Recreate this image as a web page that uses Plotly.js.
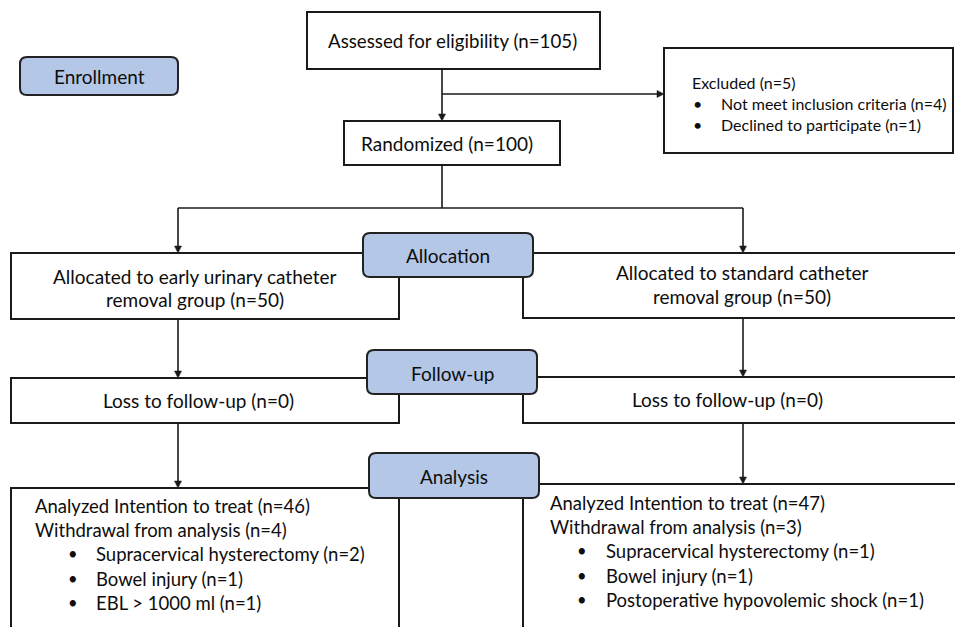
<!DOCTYPE html>
<html>
<head>
<meta charset="utf-8">
<script src="https://cdn.plot.ly/plotly-3.0.1.min.js"></script>
<style>html,body{margin:0;padding:0;background:#fff;}#chart{width:955px;height:627px;}</style>
</head>
<body>
<div id="chart"></div>
<script>
// ---- Content (texts and counts) ----
const stageLabels = ["Enrollment", "Allocation", "Follow-up", "Analysis"];
const assessedN = 105;
const excludedN = 5;
const excludedReasons = ["Not meet inclusion criteria", "Declined to participate"];
const excludedCounts = [4, 1];
const randomizedN = 100;
const groupNames = ["early urinary catheter", "standard catheter"];
const allocatedN = [50, 50];
const lostN = [0, 0];
const analyzedN = [46, 47];
const withdrawnN = [4, 3];
const withdrawReasonsLeft = ["Supracervical hysterectomy", "Bowel injury", "EBL > 1000 ml"];
const withdrawCountsLeft = [2, 1, 1];
const withdrawReasonsRight = ["Supracervical hysterectomy", "Bowel injury", "Postoperative hypovolemic shock"];
const withdrawCountsRight = [1, 1, 1];

// ---- Layout geometry (pixel-like data coordinates, y downward) ----
const FONT = "Lato, 'Open Sans', sans-serif";
const TXT = "#0d0d0d";
const shapes = [];
const annotations = [];

function rect(x0, y0, x1, y1) {
  shapes.push({type: "rect", xref: "x", yref: "y", x0, y0, x1, y1,
    line: {color: "#1a1a1a", width: 2}, fillcolor: "#ffffff", layer: "above"});
}
function pill(x0, y0, x1, y1) {
  const r = 7;
  const p = `M ${x0+r},${y0} L ${x1-r},${y0} Q ${x1},${y0} ${x1},${y0+r} L ${x1},${y1-r} Q ${x1},${y1} ${x1-r},${y1} L ${x0+r},${y1} Q ${x0},${y1} ${x0},${y1-r} L ${x0},${y0+r} Q ${x0},${y0} ${x0+r},${y0} Z`;
  shapes.push({type: "path", xref: "x", yref: "y", path: p,
    line: {color: "#222222", width: 2}, fillcolor: "#b4c7e7", layer: "above"});
}
function line(x0, y0, x1, y1) {
  shapes.push({type: "line", xref: "x", yref: "y", x0, y0, x1, y1,
    line: {color: "#1a1a1a", width: 1.6}, layer: "above"});
}
function arrowDown(x, y0, y1) {
  line(x, y0, x, y1 - 5);
  shapes.push({type: "path", xref: "x", yref: "y",
    path: `M ${x-3.5},${y1-7} L ${x+3.5},${y1-7} L ${x},${y1} Z`,
    fillcolor: "#1a1a1a", line: {color: "#1a1a1a", width: 0.5}, layer: "above"});
}
function arrowRight(x0, x1, y) {
  line(x0, y, x1 - 5, y);
  shapes.push({type: "path", xref: "x", yref: "y",
    path: `M ${x1-7},${y-3.5} L ${x1-7},${y+3.5} L ${x1},${y} Z`,
    fillcolor: "#1a1a1a", line: {color: "#1a1a1a", width: 0.5}, layer: "above"});
}
function text(t, x, y, size, anchor) {
  annotations.push({text: t, x, y, xref: "x", yref: "y", showarrow: false,
    xanchor: anchor || "center", yanchor: "middle",
    font: {family: FONT, size: size, color: TXT}});
}

// connectors
arrowDown(442, 69, 121);
arrowRight(442, 664, 94);
line(442, 165, 442, 208);
line(178, 208, 743, 208);
arrowDown(178, 208, 253);
arrowDown(743, 208, 253);
arrowDown(178, 319, 378);
arrowDown(743, 318, 377);
arrowDown(178, 423, 488);
arrowDown(743, 423, 484);

// boxes
rect(307, 12, 600, 69);
rect(664, 48, 953, 153);
rect(344, 121, 560, 165);
rect(11, 253, 399, 319);
rect(523, 253, 975, 318);
rect(11, 378, 399, 423);
rect(523, 377, 975, 423);
rect(11, 488, 399, 660);
rect(523, 484, 975, 660);

// stage pills
pill(20, 57, 178, 95);
pill(363, 233, 533, 277);
pill(367, 350, 537, 394);
pill(369, 453, 539, 498);

const MAIN = 19, SMALL = 16, ANA = 18.5;
text(stageLabels[0], 99, 76, MAIN);
text(stageLabels[1], 448, 255, MAIN);
text(stageLabels[2], 453, 373, MAIN);
text(stageLabels[3], 454, 476, MAIN);

text(`Assessed for eligibility (n=${assessedN})`, 452, 41, 18.7);
text(`Randomized (n=${randomizedN})`, 447, 143, MAIN);

text(`Excluded (n=${excludedN})`, 690, 82, SMALL, "left");
excludedReasons.forEach((r, i) => {
  const y = 103 + i * 21;
  text("•", 691, y, SMALL, "left");
  text(`${r} (n=${excludedCounts[i]})`, 719, y, SMALL, "left");
});

text(`Allocated to ${groupNames[0]}`, 195, 276, MAIN);
text(`removal group (n=${allocatedN[0]})`, 195, 299, MAIN);
text(`Allocated to ${groupNames[1]}`, 742, 272, MAIN);
text(`removal group (n=${allocatedN[1]})`, 742, 296, MAIN);

text(`Loss to follow-up (n=${lostN[0]})`, 198, 400, MAIN);
text(`Loss to follow-up (n=${lostN[1]})`, 727, 399, MAIN);

function analysisBlock(x, xb, xt, y0, n, w, reasons, counts) {
  text(`Analyzed Intention to treat (n=${n})`, x, y0, ANA, "left");
  text(`Withdrawal from analysis (n=${w})`, x, y0 + 24, ANA, "left");
  reasons.forEach((r, i) => {
    const y = y0 + 48 + i * 24.5;
    text("•", xb, y, ANA - 2, "left");
    text(`${r} (n=${counts[i]})`, xt, y, ANA, "left");
  });
}
analysisBlock(33, 66, 94, 506, analyzedN[0], withdrawnN[0], withdrawReasonsLeft, withdrawCountsLeft);
analysisBlock(548, 575, 604, 503, analyzedN[1], withdrawnN[1], withdrawReasonsRight, withdrawCountsRight);

const layout = {
  width: 955, height: 627,
  margin: {l: 0, r: 0, t: 0, b: 0},
  paper_bgcolor: "#ffffff", plot_bgcolor: "#ffffff",
  xaxis: {range: [0, 955], visible: false, fixedrange: true},
  yaxis: {range: [627, 0], visible: false, fixedrange: true},
  showlegend: false,
  shapes: shapes,
  annotations: annotations
};
Plotly.newPlot("chart", [{x: [], y: [], type: "scatter"}], layout, {displayModeBar: false, staticPlot: true});
</script>
</body>
</html>
